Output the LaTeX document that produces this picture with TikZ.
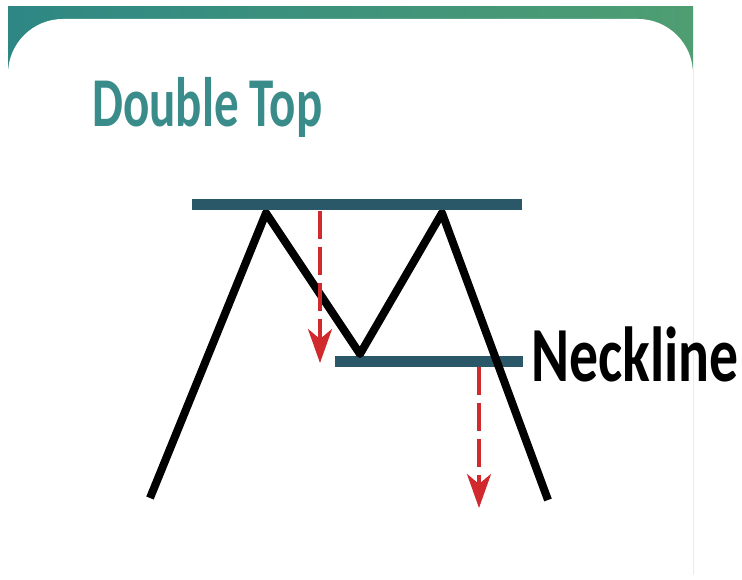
\documentclass[tikz,border=0pt]{standalone}
\usepackage{fontspec}
\usepackage{xcolor}
\usetikzlibrary{arrows.meta}
\newfontfamily\titlefont[FakeStretch=0.70]{Carlito}
\newfontfamily\labelfont[FakeStretch=0.74]{Carlito}
\definecolor{bandteal}{HTML}{2E8784}
\definecolor{bandgreen}{HTML}{4F9E72}
\definecolor{titleteal}{HTML}{3A8C8B}
\definecolor{levelblue}{HTML}{2B5868}
\definecolor{dropred}{HTML}{D02A2E}

\tikzset{
  levelbar/.style={levelblue, line width=11pt},
  pricepath/.style={black, line width=8pt, line join=round},
  droparrow/.style={dropred, line width=4pt, dash pattern=on 28pt off 8pt,
    -{Stealth[length=34pt, width=24pt, inset=10pt]}}
}

\begin{document}
\begin{tikzpicture}[x=1pt, y=1pt]
  \useasboundingbox (0,0) rectangle (742,579);
  \fill[white] (0,0) rectangle (742,579);
  % card frame
  \shade[left color=bandteal, right color=bandgreen] (8,499) rectangle (693,572);
  \fill[white] (8,0) -- (8,505) arc[start angle=180, end angle=90, radius=55]
    -- (638,560) arc[start angle=90, end angle=0, radius=55] -- (693,0) -- cycle;
  \draw[black!8, line width=1pt] (693,505) -- (693,4);

  \node[anchor=base west, inner sep=0pt, text=titleteal,
        font=\titlefont\bfseries\fontsize{70}{70}\selectfont] (title) at (92,452) {Double Top};

  % levels and price
  \coordinate (start) at (150,81);
  \coordinate (peakA) at (266,366);
  \coordinate (valley) at (360,225);
  \coordinate (peakB) at (442,366);
  \coordinate (finish) at (548,79);

  \draw[levelbar] (335,217) -- (523,217) coordinate (neckend);
  \draw[pricepath] (start) -- (peakA) -- (valley) -- (peakB) -- (finish);
  \draw[levelbar] (192,374) -- (522,374) coordinate (topend);

  \node[anchor=base west, inner sep=0pt,
        font=\labelfont\bfseries\fontsize{78}{78}\selectfont] (neckline) at (531,197) {Neckline};

  % targets
  \coordinate (dropA) at (320,368);
  \coordinate (dropAend) at (320,216);
  \coordinate (dropB) at (479,212);
  \coordinate (dropBend) at (479,71);
  \draw[droparrow] (dropA) -- (dropAend);
  \draw[droparrow] (dropB) -- (dropBend);
\end{tikzpicture}
\end{document}
